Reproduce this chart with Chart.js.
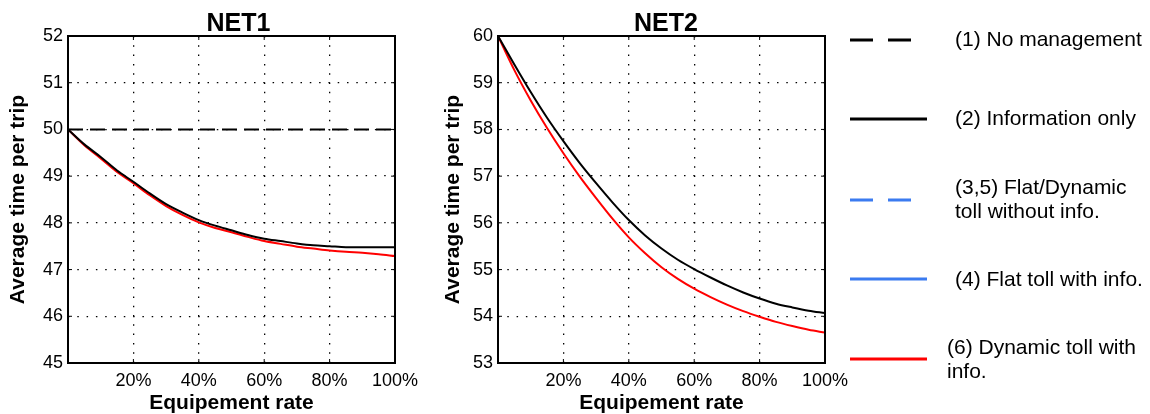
<!DOCTYPE html>
<html>
<head>
<meta charset="utf-8">
<script src="https://cdn.jsdelivr.net/npm/chart.js@4.4.0/dist/chart.umd.min.js"></script>
<style>
html,body{margin:0;padding:0;background:#fff;}
#wrap{position:relative;width:1150px;height:414px;overflow:hidden;font-family:"Liberation Sans",Arial,Helvetica,sans-serif;}
canvas{position:absolute;top:0;}
#c1{left:0;}
#c2{left:435px;}
#lgsvg{position:absolute;left:0;top:0;}
.lg{position:absolute;font-size:21px;line-height:24px;color:#000;white-space:nowrap;}
.ttl{position:absolute;top:8px;width:200px;text-align:center;font-size:25px;line-height:28px;font-weight:bold;color:#000;}
</style>
</head>
<body>
<div id="wrap">
<canvas id="c1" width="430" height="414"></canvas>
<canvas id="c2" width="430" height="414"></canvas>
<div class="ttl" style="left:138.5px">NET1</div>
<div class="ttl" style="left:566px">NET2</div>
<svg id="lgsvg" width="1150" height="414">
  <line x1="850" y1="40" x2="912" y2="40" stroke="#000" stroke-width="3" stroke-dasharray="23 15"/>
  <line x1="850" y1="119" x2="927" y2="119" stroke="#000" stroke-width="3"/>
  <line x1="850" y1="200" x2="912" y2="200" stroke="#3b7bf0" stroke-width="3" stroke-dasharray="23 15"/>
  <line x1="850" y1="279" x2="927" y2="279" stroke="#3b7bf0" stroke-width="3"/>
  <line x1="850" y1="359" x2="927" y2="359" stroke="#ff0000" stroke-width="3"/>
</svg>
<div class="lg" style="left:955px;top:27px">(1) No management</div>
<div class="lg" style="left:955px;top:106px">(2) Information only</div>
<div class="lg" style="left:955px;top:175px">(3,5) Flat/Dynamic<br>toll without info.</div>
<div class="lg" style="left:955px;top:267px">(4) Flat toll with info.</div>
<div class="lg" style="left:947px;top:335px">(6) Dynamic toll with<br>info.</div>
</div>
<script>
// ---- data ----
const equipRate = [0,5,10,15,20,25,30,35,40,45,50,55,60,65,70,75,80,85,90,95,100];
const xTicks = [20,40,60,80,100];

const net1NoManagement = [50,50,50,50,50,50,50,50,50,50,50,50,50,50,50,50,50,50,50,50,50];
const net1InfoOnly = [50,49.68,49.41,49.12,48.88,48.63,48.40,48.22,48.06,47.94,47.84,47.74,47.66,47.61,47.56,47.52,47.50,47.48,47.48,47.48,47.48];
const net1DynTollInfo = [50,49.66,49.38,49.09,48.85,48.59,48.36,48.17,48.01,47.89,47.80,47.70,47.61,47.55,47.49,47.45,47.41,47.38,47.36,47.33,47.29];

const net2NoManagement = [60,60,60,60,60,60,60,60,60,60,60,60,60,60,60,60,60,60,60,60,60];
const net2InfoOnly = [60,59.39,58.80,58.25,57.75,57.28,56.85,56.44,56.06,55.73,55.45,55.21,55.01,54.83,54.66,54.51,54.38,54.27,54.19,54.12,54.07];
const net2DynTollInfo = [60,59.27,58.62,58.03,57.49,56.99,56.53,56.09,55.69,55.35,55.05,54.80,54.59,54.41,54.25,54.11,53.99,53.88,53.79,53.71,53.65];

const net1YRange = [45,52];
const net2YRange = [53,60];

// ---- rendering ----
const FONT = '"Liberation Sans", Arial, Helvetica, sans-serif';
Chart.defaults.font.family = FONT;
Chart.defaults.color = '#000';

const toPts = (ys) => equipRate.map((x,i) => ({x:x, y:ys[i]}));

const boxPlugin = {
  id: 'box',
  afterDatasetsDraw(chart) {
    const {ctx, chartArea: a} = chart;
    ctx.save();
    ctx.strokeStyle = '#000';
    ctx.lineWidth = 2;
    ctx.setLineDash([]);
    ctx.strokeRect(a.left, a.top, a.right - a.left, a.bottom - a.top);
    ctx.lineWidth = 1;
    const ys = chart.scales.y, xs = chart.scales.x;
    ys.ticks.forEach(t => {
      const p = ys.getPixelForValue(t.value);
      ctx.beginPath(); ctx.moveTo(a.right, p); ctx.lineTo(a.right - 4, p); ctx.stroke();
      ctx.beginPath(); ctx.moveTo(a.left, p); ctx.lineTo(a.left + 4, p); ctx.stroke();
    });
    xs.ticks.forEach(t => {
      const p = xs.getPixelForValue(t.value);
      ctx.beginPath(); ctx.moveTo(p, a.top); ctx.lineTo(p, a.top + 4); ctx.stroke();
      ctx.beginPath(); ctx.moveTo(p, a.bottom); ctx.lineTo(p, a.bottom - 4); ctx.stroke();
    });
    ctx.restore();
  }
};

function makeChart(id, yRange, noMgmt, info, dyn, yAxisWidth, rightPad) {
  return new Chart(document.getElementById(id), {
    type: 'line',
    data: {
      datasets: [
        {label:'(1) No management', data: toPts(noMgmt), borderColor:'#000', borderWidth:2,
         borderDash:[15,7], pointRadius:0, fill:false},
        {label:'(2) Information only', data: toPts(info), borderColor:'#000', borderWidth:2,
         pointRadius:0, fill:false, cubicInterpolationMode:'monotone'},
        {label:'(6) Dynamic toll with info.', data: toPts(dyn), borderColor:'#ff0000', borderWidth:2,
         pointRadius:0, fill:false, cubicInterpolationMode:'monotone'}
      ]
    },
    options: {
      responsive: false,
      animation: false,
      layout: {padding: {left:0, right:rightPad, top:36, bottom:0}},
      plugins: {
        legend: {display:false},
        tooltip: {enabled:false},
        title: {display:false}
      },
      scales: {
        x: {
          type: 'linear', min: 0, max: 100,
          afterBuildTicks: (s) => { s.ticks = xTicks.map(v => ({value:v})); },
          afterFit: (s) => { s.height = 51; },
          ticks: {font:{size:18, family:FONT}, color:'#000', padding:7, maxRotation:0,
                  callback: (v) => v + '%'},
          grid: {color:'#000', lineWidth:1.3, drawTicks:false},
          border: {display:false, dash:[1.5,7.8]},
          title: {display:true, text:'Equipement rate', color:'#000',
                  font:{size:21, weight:'bold', family:FONT, lineHeight:1}, padding:{top:0, bottom:0}}
        },
        y: {
          type: 'linear', min: yRange[0], max: yRange[1],
          afterFit: (s) => { s.width = yAxisWidth; },
          ticks: {stepSize:1, font:{size:18, family:FONT}, color:'#000', padding:5},
          grid: {color:'#000', lineWidth:1.3, drawTicks:false},
          border: {display:false, dash:[1.5,7.8]},
          title: {display:true, text:'Average time per trip', color:'#000',
                  font:{size:21, weight:'bold', family:FONT, lineHeight:1}, padding:{top:7.5, bottom:0}}
        }
      }
    },
    plugins: [boxPlugin]
  });
}

makeChart('c1', net1YRange, net1NoManagement, net1InfoOnly, net1DynTollInfo, 68, 35);
makeChart('c2', net2YRange, net2NoManagement, net2InfoOnly, net2DynTollInfo, 63, 40);
</script>
</body>
</html>
